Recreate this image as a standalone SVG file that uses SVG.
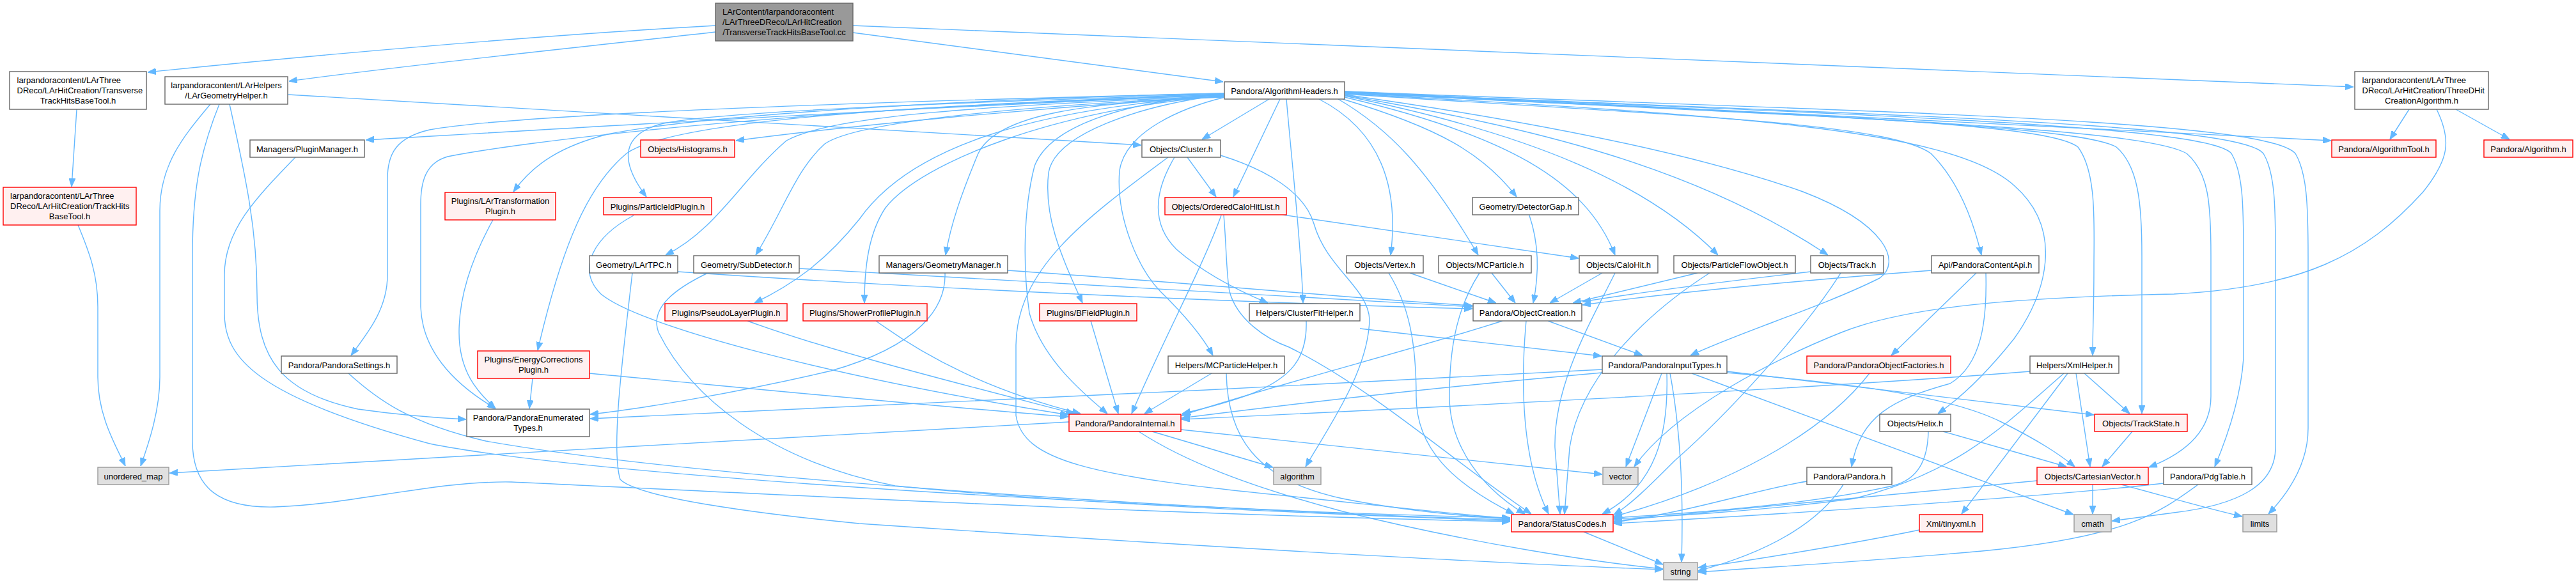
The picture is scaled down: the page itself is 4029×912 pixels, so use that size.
<svg xmlns="http://www.w3.org/2000/svg" width="4029" height="912" viewBox="0 0 4029 912">
<defs>
<marker id="arr" markerWidth="13" markerHeight="10" refX="13" refY="5" orient="auto" markerUnits="userSpaceOnUse"><path d="M0,0 L13,5 L0,10 z" fill="#63b8ff" stroke="#63b8ff" stroke-width="1"/></marker>
</defs>
<style>
text{font-family:"Liberation Sans",Arial,Helvetica,sans-serif;font-size:13px;fill:#000}
.c{text-anchor:middle}
.n rect{fill:#fff;stroke:#666;stroke-width:1.4}
.r rect{fill:#fff0f0;stroke:#f00;stroke-width:1.4}
.g rect{fill:#e0e0e0;stroke:#999;stroke-width:1.4}
.m rect{fill:#999;stroke:#666;stroke-width:1.4}
#edges path{fill:none;stroke:#63b8ff;stroke-width:1.4;marker-end:url(#arr)}
</style>
<rect width="4029" height="912" fill="#fff"/>
<g id="edges">
<path d="M1119,40 C850,55 500,85 231,113"/>
<path d="M1119,50 C900,75 650,100 452,127"/>
<path d="M1334,51 C1550,78 1750,105 1913,128"/>
<path d="M1334,40 C2200,70 3000,110 3681,136"/>
<path d="M120,171 L112,292"/>
<path d="M122,352 C140,395 153,430 153,480 L153,590 C153,650 180,695 196,729"/>
<path d="M329,163 C290,210 250,255 250,330 L250,590 C250,640 234,690 220,729"/>
<path d="M451,148 L1785,227"/>
<path d="M359,163 C385,280 402,360 402,460 C402,560 440,615 560,640 C630,650 690,654 729,656"/>
<path d="M343,163 C312,240 301,300 301,400 L301,690 C301,765 345,795 430,793 C560,788 680,752 800,754 C1150,770 1800,805 2362,816"/>
<path d="M462,246 C400,310 351,360 351,430 L351,490 C351,560 400,620 672,694 C950,750 1900,800 2362,810"/>
<path d="M545,584 C590,625 640,662 760,690 C1100,750 1900,800 2362,813"/>
<path d="M1915,148 C1400,170 900,200 572,219"/>
<path d="M1915,150 C1600,170 1300,200 1151,220"/>
<path d="M1985,155 L1880,218"/>
<path d="M2002,155 L1929,308"/>
<path d="M1915,146 C1500,155 1100,180 950,210 C880,228 835,255 803,300"/>
<path d="M1915,147 C1500,160 1100,175 1030,195 C965,215 975,260 1011,308"/>
<path d="M1915,150 C1550,165 1300,180 1230,220 C1160,280 1120,360 1041,399"/>
<path d="M1915,151 C1600,165 1340,190 1290,225 C1245,265 1225,330 1182,399"/>
<path d="M1915,152 C1700,160 1560,178 1530,240 C1505,300 1487,350 1479,399"/>
<path d="M1915,146 C1300,160 800,180 672,203 C620,215 606,240 606,280 L606,430 C606,480 580,515 549,556"/>
<path d="M1915,149 C1200,170 800,225 700,245 C665,255 658,285 658,320 L658,480 C660,545 705,598 775,639"/>
<path d="M1915,150 C1600,170 1420,235 1344,343 C1290,410 1240,445 1180,474"/>
<path d="M1915,150 C1650,170 1440,255 1385,325 C1358,365 1352,420 1352,474"/>
<path d="M1915,148 C1400,165 1050,190 980,240 C920,290 880,380 841,548"/>
<path d="M1915,148 C1780,165 1650,210 1640,270 C1632,340 1660,400 1693,474"/>
<path d="M1915,147 C1750,160 1640,200 1618,260 C1600,330 1600,420 1610,490 C1630,560 1690,612 1732,647"/>
<path d="M1916,152 C1850,168 1760,205 1751,267 C1745,340 1780,420 1815,456 C1850,490 1880,525 1897,556"/>
<path d="M2012,155 C2020,250 2035,380 2038,474"/>
<path d="M2063,155 C2150,200 2190,280 2175,399"/>
<path d="M2093,155 C2170,200 2230,260 2312,399"/>
<path d="M2100,155 C2250,200 2320,240 2372,308"/>
<path d="M2103,152 C2350,210 2480,280 2526,399"/>
<path d="M2103,150 C2400,210 2580,290 2687,399"/>
<path d="M2103,149 C2400,200 2650,260 2859,399"/>
<path d="M2103,148 C2400,190 2650,240 2820,300 C2950,350 2975,410 2940,435 C2850,480 2720,520 2644,556"/>
<path d="M2103,147 C2600,180 2950,190 3020,240 C3060,280 3085,340 3099,399"/>
<path d="M2103,146 C2700,180 3050,200 3150,290 C3230,360 3200,460 3150,530 C3110,580 3070,620 3031,647"/>
<path d="M2103,145 C2800,180 3200,190 3250,230 C3280,270 3275,350 3275,420 C3275,480 3273,520 3273,556"/>
<path d="M2103,144 C2800,180 3250,195 3310,230 C3345,260 3350,320 3350,400 L3350,647"/>
<path d="M2103,143 C2800,180 3300,200 3646,220"/>
<path d="M2103,145 C2900,185 3350,200 3420,240 C3455,270 3458,320 3458,400 L3458,620 C3458,680 3410,712 3361,731"/>
<path d="M2103,144 C2900,180 3450,195 3490,240 C3508,270 3509,320 3509,400 L3509,560 C3505,620 3485,680 3464,730"/>
<path d="M2103,144 C2900,180 3500,190 3540,240 C3558,270 3559,320 3559,400 L3559,700 C3559,760 3500,790 3400,802 L3303,815"/>
<path d="M2103,143 C2900,175 3540,185 3590,240 C3608,270 3610,320 3610,400 L3610,670 C3610,720 3585,765 3548,804"/>
<path d="M1857,246 L1902,308"/>
<path d="M1837,246 C1805,300 1800,350 1840,390 C1880,425 1930,452 1983,474"/>
<path d="M1909,243 C1980,265 2040,300 2055,350 C2075,420 2140,450 2142,500 C2140,580 2080,665 2042,730"/>
<path d="M1827,246 C1700,340 1590,420 1589,540 L1589,650 C1600,720 1700,745 2016,776 C2150,790 2280,805 2362,811"/>
<path d="M1910,337 C1880,420 1820,530 1770,647"/>
<path d="M2006,336 L2469,404"/>
<path d="M1914,337 C1918,380 1918,430 1923,456 C1935,500 1980,530 2016,543 C2150,610 2270,720 2395,804"/>
<path d="M2043,502 C2045,560 2020,590 1960,615 C1920,630 1880,640 1849,647"/>
<path d="M2127,514 L2505,557"/>
<path d="M2350,502 C2200,550 2000,600 1848,650"/>
<path d="M2387,502 C2378,600 2380,720 2422,804"/>
<path d="M2421,502 L2569,556"/>
<path d="M2506,578 C2000,605 1300,640 923,655"/>
<path d="M2506,583 C2200,610 2000,635 1848,654"/>
<path d="M2599,584 L2543,730"/>
<path d="M2607,584 C2610,680 2590,760 2506,804"/>
<path d="M2612,584 C2630,680 2633,780 2630,879"/>
<path d="M2701,581 L3275,649"/>
<path d="M2701,583 C2900,600 3050,620 3130,660 C3190,690 3220,710 3245,730"/>
<path d="M2646,584 L3243,805"/>
<path d="M2924,584 C2850,680 2700,760 2524,808"/>
<path d="M3021,423 C2800,440 2600,460 2475,477"/>
<path d="M3091,427 L2958,556"/>
<path d="M3106,427 C3108,500 3100,570 3050,600 C2960,625 2910,650 2896,730"/>
<path d="M2832,425 C2700,440 2580,455 2475,472"/>
<path d="M2879,427 C2820,520 2700,650 2620,720 C2580,760 2550,790 2524,805"/>
<path d="M2205,427 L2340,474"/>
<path d="M2172,427 C2205,480 2215,540 2215,620 C2215,700 2270,755 2368,804"/>
<path d="M2333,427 L2370,474"/>
<path d="M2314,427 C2280,480 2267,540 2267,620 C2267,700 2320,765 2385,804"/>
<path d="M2392,337 C2410,390 2405,440 2398,474"/>
<path d="M2506,427 L2424,474"/>
<path d="M2526,427 C2490,500 2430,600 2432,700 L2440,804"/>
<path d="M2655,427 L2460,474"/>
<path d="M2674,427 C2560,500 2470,600 2455,700 L2447,804"/>
<path d="M1060,425 C1500,455 2000,475 2303,483"/>
<path d="M989,427 C975,550 955,700 970,750 C1000,780 1200,805 1344,819 C1800,850 2300,880 2601,891"/>
<path d="M1250,420 C1700,445 2100,470 2303,480"/>
<path d="M1105,428 C1060,450 1015,480 1030,520 C1080,620 1200,720 1400,760 C1700,790 2100,805 2362,815"/>
<path d="M1576,423 C1900,445 2150,470 2303,478"/>
<path d="M1478,427 C1480,480 1440,540 1300,580 C1150,615 1000,640 923,648"/>
<path d="M771,344 C740,400 718,460 718,520 C718,580 745,612 775,639"/>
<path d="M833,592 L828,639"/>
<path d="M922,584 C1200,610 1450,635 1671,652"/>
<path d="M991,337 C930,370 900,420 940,460 C1000,510 1300,590 1671,649"/>
<path d="M1169,502 C1300,550 1500,600 1680,647"/>
<path d="M1370,502 C1450,560 1550,612 1690,647"/>
<path d="M1706,502 L1749,647"/>
<path d="M1895,584 L1790,647"/>
<path d="M1918,584 C1920,680 1960,750 2100,780 C2200,800 2300,808 2362,812"/>
<path d="M1672,660 C1300,680 700,715 265,740"/>
<path d="M1802,675 L1991,731"/>
<path d="M1847,672 C2100,700 2350,725 2506,742"/>
<path d="M1781,675 C1850,720 1950,760 2100,800 C2300,850 2500,880 2601,890"/>
<path d="M2477,832 L2601,883"/>
<path d="M3768,171 L3738,218"/>
<path d="M3841,171 L3925,218"/>
<path d="M3811,171 C3835,220 3830,250 3790,300 C3700,400 3600,450 3400,460 C3150,465 2980,480 2880,520 C2780,560 2620,640 2556,730"/>
<path d="M3175,581 C2900,603 2400,630 1848,656"/>
<path d="M3228,584 C3130,670 3060,740 2900,780 C2750,800 2600,808 2524,812"/>
<path d="M3234,584 L3068,804"/>
<path d="M3247,584 L3269,730"/>
<path d="M3260,584 L3331,647"/>
<path d="M3335,675 L3288,730"/>
<path d="M3273,758 L3273,804"/>
<path d="M3186,752 C2900,780 2700,800 2524,815"/>
<path d="M3318,758 C3400,780 3450,795 3507,808"/>
<path d="M3016,675 C3015,720 3000,750 2960,760 C2850,785 2700,800 2524,810"/>
<path d="M3039,675 L3232,730"/>
<path d="M2826,753 C2750,765 2650,800 2524,817"/>
<path d="M2883,758 C2850,810 2780,860 2656,893"/>
<path d="M3438,758 C3380,800 3330,840 3100,862 C2900,880 2750,888 2656,895"/>
<path d="M3384,756 C3250,772 2900,798 2524,819"/>
<path d="M3002,829 C2900,850 2750,875 2656,888"/>
</g>
<g id="main" class="m"><rect x="1119" y="5" width="215" height="59"/><text x="1130" y="23">LArContent/larpandoracontent</text><text x="1130" y="39">/LArThreeDReco/LArHitCreation</text><text x="1226.5" y="55" class="c">/TransverseTrackHitsBaseTool.cc</text></g>
<g id="tthbt" class="n"><rect x="15" y="112" width="214" height="59"/><text x="26.5" y="130">larpandoracontent/LArThree</text><text x="26.5" y="146">DReco/LArHitCreation/Transverse</text><text x="122" y="162" class="c">TrackHitsBaseTool.h</text></g>
<g id="lgh" class="n"><rect x="258" y="120" width="192" height="43"/><text x="354" y="138" class="c">larpandoracontent/LArHelpers</text><text x="354" y="154" class="c">/LArGeometryHelper.h</text></g>
<g id="thbt" class="r"><rect x="5" y="293" width="208" height="59"/><text x="16" y="311">larpandoracontent/LArThree</text><text x="16" y="327">DReco/LArHitCreation/TrackHits</text><text x="109" y="343" class="c">BaseTool.h</text></g>
<g id="pm" class="n"><rect x="391" y="219" width="179" height="27"/><text x="480.5" y="237.5" class="c">Managers/PluginManager.h</text></g>
<g id="hist" class="r"><rect x="1002" y="219" width="147" height="27"/><text x="1075.5" y="237.5" class="c">Objects/Histograms.h</text></g>
<g id="ltp" class="r"><rect x="696" y="301" width="173" height="43"/><text x="782.5" y="319" class="c">Plugins/LArTransformation</text><text x="782.5" y="335" class="c">Plugin.h</text></g>
<g id="pidp" class="r"><rect x="944" y="309" width="169" height="27"/><text x="1028.5" y="327.5" class="c">Plugins/ParticleIdPlugin.h</text></g>
<g id="tpc" class="n"><rect x="922" y="400" width="138" height="27"/><text x="991" y="418.5" class="c">Geometry/LArTPC.h</text></g>
<g id="subd" class="n"><rect x="1085" y="400" width="165" height="27"/><text x="1167.5" y="418.5" class="c">Geometry/SubDetector.h</text></g>
<g id="ah" class="n"><rect x="1915" y="128" width="188" height="27"/><text x="2009" y="146.5" class="c">Pandora/AlgorithmHeaders.h</text></g>
<g id="clu" class="n"><rect x="1786" y="219" width="123" height="27"/><text x="1847.5" y="237.5" class="c">Objects/Cluster.h</text></g>
<g id="ochl" class="r"><rect x="1822" y="309" width="190" height="27"/><text x="1917" y="327.5" class="c">Objects/OrderedCaloHitList.h</text></g>
<g id="gm" class="n"><rect x="1375" y="400" width="201" height="27"/><text x="1475.5" y="418.5" class="c">Managers/GeometryManager.h</text></g>
<g id="dg" class="n"><rect x="2303" y="309" width="166" height="27"/><text x="2386" y="327.5" class="c">Geometry/DetectorGap.h</text></g>
<g id="vtx" class="n"><rect x="2106" y="400" width="120" height="27"/><text x="2166" y="418.5" class="c">Objects/Vertex.h</text></g>
<g id="mcp" class="n"><rect x="2250" y="400" width="145" height="27"/><text x="2322.5" y="418.5" class="c">Objects/MCParticle.h</text></g>
<g id="ch" class="n"><rect x="2470" y="400" width="123" height="27"/><text x="2531.5" y="418.5" class="c">Objects/CaloHit.h</text></g>
<g id="pfo" class="n"><rect x="2618" y="400" width="190" height="27"/><text x="2713" y="418.5" class="c">Objects/ParticleFlowObject.h</text></g>
<g id="trk" class="n"><rect x="2832" y="400" width="114" height="27"/><text x="2889" y="418.5" class="c">Objects/Track.h</text></g>
<g id="pca" class="n"><rect x="3021" y="400" width="168" height="27"/><text x="3105" y="418.5" class="c">Api/PandoraContentApi.h</text></g>
<g id="tdh" class="n"><rect x="3683" y="112" width="209" height="59"/><text x="3694.5" y="130">larpandoracontent/LArThree</text><text x="3694.5" y="146">DReco/LArHitCreation/ThreeDHit</text><text x="3787.5" y="162" class="c">CreationAlgorithm.h</text></g>
<g id="at" class="r"><rect x="3647" y="219" width="163" height="27"/><text x="3728.5" y="237.5" class="c">Pandora/AlgorithmTool.h</text></g>
<g id="alg" class="r"><rect x="3885" y="219" width="139" height="27"/><text x="3954.5" y="237.5" class="c">Pandora/Algorithm.h</text></g>
<g id="um" class="g"><rect x="153" y="731" width="111" height="27"/><text x="208.5" y="749.5" class="c">unordered_map</text></g>
<g id="ps" class="n"><rect x="440" y="557" width="181" height="27"/><text x="530.5" y="575.5" class="c">Pandora/PandoraSettings.h</text></g>
<g id="plp" class="r"><rect x="1040" y="475" width="191" height="27"/><text x="1135.5" y="493.5" class="c">Plugins/PseudoLayerPlugin.h</text></g>
<g id="spp" class="r"><rect x="1256" y="475" width="194" height="27"/><text x="1353" y="493.5" class="c">Plugins/ShowerProfilePlugin.h</text></g>
<g id="ecp" class="r"><rect x="747" y="549" width="175" height="43"/><text x="834.5" y="567" class="c">Plugins/EnergyCorrections</text><text x="834.5" y="583" class="c">Plugin.h</text></g>
<g id="pet" class="n"><rect x="730" y="640" width="192" height="43"/><text x="826" y="658" class="c">Pandora/PandoraEnumerated</text><text x="826" y="674" class="c">Types.h</text></g>
<g id="bfp" class="r"><rect x="1626" y="475" width="152" height="27"/><text x="1702" y="493.5" class="c">Plugins/BFieldPlugin.h</text></g>
<g id="mcph" class="n"><rect x="1827" y="557" width="182" height="27"/><text x="1918" y="575.5" class="c">Helpers/MCParticleHelper.h</text></g>
<g id="pi" class="r"><rect x="1672" y="648" width="175" height="27"/><text x="1759.5" y="666.5" class="c">Pandora/PandoraInternal.h</text></g>
<g id="algo" class="g"><rect x="1992" y="731" width="74" height="27"/><text x="2029" y="749.5" class="c">algorithm</text></g>
<g id="cfh" class="n"><rect x="1954" y="475" width="173" height="27"/><text x="2040.5" y="493.5" class="c">Helpers/ClusterFitHelper.h</text></g>
<g id="oc" class="n"><rect x="2304" y="475" width="170" height="27"/><text x="2389" y="493.5" class="c">Pandora/ObjectCreation.h</text></g>
<g id="pit" class="n"><rect x="2506" y="557" width="195" height="27"/><text x="2603.5" y="575.5" class="c">Pandora/PandoraInputTypes.h</text></g>
<g id="vec" class="g"><rect x="2507" y="731" width="55" height="27"/><text x="2534.5" y="749.5" class="c">vector</text></g>
<g id="sc" class="r"><rect x="2364" y="805" width="159" height="27"/><text x="2443.5" y="823.5" class="c">Pandora/StatusCodes.h</text></g>
<g id="str" class="g"><rect x="2602" y="880" width="53" height="27"/><text x="2628.5" y="898.5" class="c">string</text></g>
<g id="pof" class="r"><rect x="2826" y="557" width="225" height="27"/><text x="2938.5" y="575.5" class="c">Pandora/PandoraObjectFactories.h</text></g>
<g id="xh" class="n"><rect x="3175" y="557" width="139" height="27"/><text x="3244.5" y="575.5" class="c">Helpers/XmlHelper.h</text></g>
<g id="hx" class="n"><rect x="2940" y="648" width="111" height="27"/><text x="2995.5" y="666.5" class="c">Objects/Helix.h</text></g>
<g id="ts" class="r"><rect x="3276" y="648" width="145" height="27"/><text x="3348.5" y="666.5" class="c">Objects/TrackState.h</text></g>
<g id="pan" class="n"><rect x="2826" y="731" width="133" height="27"/><text x="2892.5" y="749.5" class="c">Pandora/Pandora.h</text></g>
<g id="cv" class="r"><rect x="3186" y="731" width="174" height="27"/><text x="3273" y="749.5" class="c">Objects/CartesianVector.h</text></g>
<g id="tx" class="r"><rect x="3002" y="805" width="99" height="27"/><text x="3051.5" y="823.5" class="c">Xml/tinyxml.h</text></g>
<g id="cm" class="g"><rect x="3244" y="805" width="58" height="27"/><text x="3273" y="823.5" class="c">cmath</text></g>
<g id="pdg" class="n"><rect x="3384" y="731" width="138" height="27"/><text x="3453" y="749.5" class="c">Pandora/PdgTable.h</text></g>
<g id="lim" class="g"><rect x="3508" y="805" width="53" height="27"/><text x="3534.5" y="823.5" class="c">limits</text></g>
</svg>
